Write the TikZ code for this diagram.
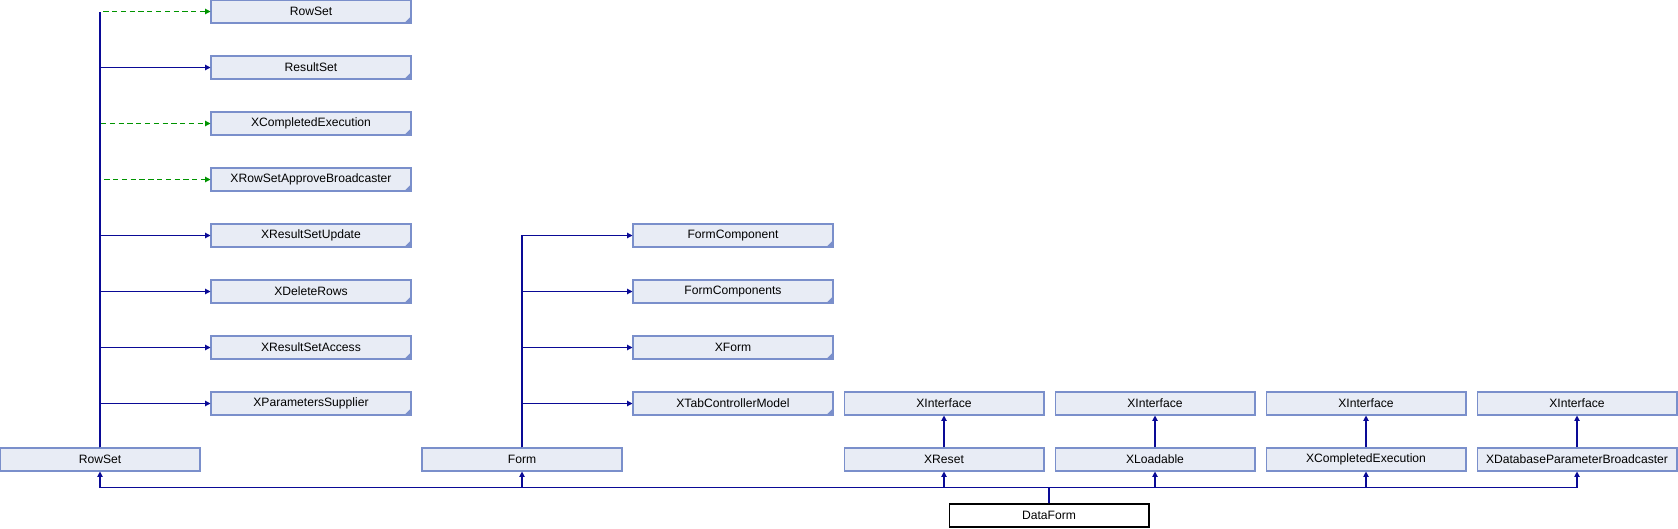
\documentclass[tikz,border=0pt]{standalone}
\usepackage{fontspec}
\setmainfont{Liberation Sans}
\usetikzlibrary{arrows.meta}
\definecolor{boxfill}{HTML}{E8ECF5}
\definecolor{boxline}{HTML}{7A8FCB}
\definecolor{publine}{HTML}{0A0A96}
\definecolor{protline}{HTML}{009400}

\begin{document}
\begin{tikzpicture}[x=0.02cm, y=-0.02cm,
  cls/.style={draw=boxline, fill=boxfill, line width=0.6pt, minimum width=4cm,
    minimum height=0.46cm, inner sep=0pt, font=\fontsize{6.9}{7}\selectfont},
  more/.style={cls, path picture={\fill[boxline] (path picture bounding box.south east)
    -- ++(-0.13cm,0) -- ++(0.13cm,0.13cm) -- cycle;}},
  self/.style={cls, draw=black, fill=white},
  trunk/.style={draw=publine, line width=0.6pt},
  inh/.style={trunk, -{Triangle[length=3pt,width=3pt]}},
  prot/.style={inh, draw=protline, dash pattern=on 3pt off 2pt}]
\useasboundingbox (0,0) rectangle (1678,528);
% RowSet and what it implements
\node[more] (rsRowSet) at (311, 11.5) {RowSet};
\node[more] (rsResultSet) at (311, 67.5) {ResultSet};
\node[more] (rsCompleted) at (311, 123.5) {XCompletedExecution};
\node[more] (rsApprove) at (311, 179.5) {XRowSetApproveBroadcaster};
\node[more] (rsUpdate) at (311, 235.5) {XResultSetUpdate};
\node[more] (rsDelete) at (311, 291.5) {XDeleteRows};
\node[more] (rsAccess) at (311, 347.5) {XResultSetAccess};
\node[more] (rsParams) at (311, 403.5) {XParametersSupplier};
\node[cls] (rowset) at (100, 459.5) {RowSet};
% Form and what it implements
\node[more] (fmComponent) at (733, 235.5) {FormComponent};
\node[more] (fmComponents) at (733, 291.5) {FormComponents};
\node[more] (fmXForm) at (733, 347.5) {XForm};
\node[more] (fmTab) at (733, 403.5) {XTabControllerModel};
\node[cls] (form) at (522, 459.5) {Form};
% the other bases
\node[cls] (ifaceA) at (944, 403.5) {XInterface};
\node[cls] (ifaceB) at (1155, 403.5) {XInterface};
\node[cls] (ifaceC) at (1366, 403.5) {XInterface};
\node[cls] (ifaceD) at (1577, 403.5) {XInterface};
\node[cls] (reset) at (944, 459.5) {XReset};
\node[cls] (loadable) at (1155, 459.5) {XLoadable};
\node[cls] (completed) at (1366, 459.5) {XCompletedExecution};
\node[cls] (broadcaster) at (1577, 459.5) {XDatabaseParameterBroadcaster};
\node[self] (dataform) at (1049, 515.5) {DataForm};
\coordinate (bus) at (1049, 487.5);

\draw[prot] (rowset.north) |- (rsRowSet.west);
\draw[prot] (rowset.north) |- (rsCompleted.west);
\draw[prot] (rowset.north) |- (rsApprove.west);
\draw[trunk] (rowset.north) -- (rowset.north |- rsRowSet.west);
\draw[inh] (rowset.north) |- (rsResultSet.west);
\draw[inh] (rowset.north) |- (rsUpdate.west);
\draw[inh] (rowset.north) |- (rsDelete.west);
\draw[inh] (rowset.north) |- (rsAccess.west);
\draw[inh] (rowset.north) |- (rsParams.west);

\draw[inh] (form.north) |- (fmComponent.west);
\draw[inh] (form.north) |- (fmComponents.west);
\draw[inh] (form.north) |- (fmXForm.west);
\draw[inh] (form.north) |- (fmTab.west);

\draw[inh] (reset) -- (ifaceA);
\draw[inh] (loadable) -- (ifaceB);
\draw[inh] (completed) -- (ifaceC);
\draw[inh] (broadcaster) -- (ifaceD);

\draw[inh] (dataform.north) -- (bus) -| (rowset.south);
\draw[inh] (dataform.north) -- (bus) -| (form.south);
\draw[inh] (dataform.north) -- (bus) -| (reset.south);
\draw[inh] (dataform.north) -- (bus) -| (loadable.south);
\draw[inh] (dataform.north) -- (bus) -| (completed.south);
\draw[inh] (dataform.north) -- (bus) -| (broadcaster.south);
\end{tikzpicture}
\end{document}
